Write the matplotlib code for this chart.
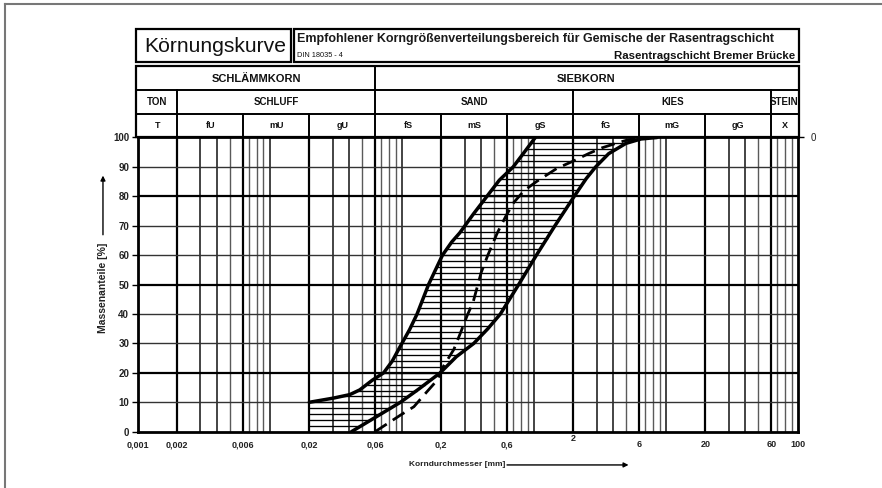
import matplotlib
matplotlib.use("Agg")
import matplotlib.pyplot as plt
import numpy as np
from matplotlib import transforms
from matplotlib.lines import Line2D
from matplotlib.patches import Rectangle

plt.rcParams['font.family'] = ['Liberation Sans', 'DejaVu Sans']

# ---------------- data ----------------
# upper (fine) limit of recommended range
upper_d = [0.02, 0.0303, 0.0405, 0.0482, 0.06, 0.0731, 0.085, 0.0977, 0.115, 0.131, 0.160, 0.204, 0.24, 0.276, 0.35, 0.443, 0.55, 0.70, 0.85, 1.03]
upper_p = [10, 11.4, 12.6, 14.2, 17.5, 20, 24, 29, 34.7, 40, 50, 60, 64.5, 67.6, 74, 80, 85.5, 90, 95, 100]
# lower (coarse) limit of recommended range
lower_d = [0.0417, 0.0645, 0.098, 0.135, 0.196, 0.26, 0.352, 0.45, 0.56, 0.77, 1.05, 1.45, 2.03, 2.5, 2.95, 3.7, 5.0, 6.5, 8.6]
lower_p = [0, 5.1, 10, 14.5, 20, 25.5, 30, 35, 40, 50, 60, 70, 80, 86, 90, 94.5, 98, 99.5, 100]
# Rasentragschicht Bremer Brücke (dashed)
dash_d = [0.063, 0.097, 0.124, 0.155, 0.186, 0.206, 0.249, 0.276, 0.314, 0.348, 0.40, 0.45, 0.53, 0.62, 0.71, 0.85, 1.05, 1.5, 2.0, 2.6, 3.3, 4.2, 5.0, 5.8, 6.5]
dash_p = [0, 5.5, 8.5, 13.5, 17.5, 22, 28, 33, 39.5, 44, 54, 60, 67.5, 73.5, 78, 82, 85, 89.5, 92, 94.5, 96.5, 98, 99, 99.6, 100]

x_ticks = [0.001, 0.002, 0.0063, 0.02, 0.063, 0.2, 0.63, 2, 6.3, 20, 63, 100]
x_tick_labels = ["0,001", "0,002", "0,006", "0,02", "0,06", "0,2", "0,6", "2", "6", "20", "60", "100"]
y_ticks = [0, 10, 20, 30, 40, 50, 60, 70, 80, 90, 100]

row2_bounds = [0.001, 0.063, 100]
row2_labels = ["SCHLÄMMKORN", "SIEBKORN"]
row3_bounds = [0.001, 0.002, 0.063, 2, 63, 100]
row3_labels = ["TON", "SCHLUFF", "SAND", "KIES", "STEIN"]
row4_bounds = [0.001, 0.002, 0.0063, 0.02, 0.063, 0.2, 0.63, 2, 6.3, 20, 63, 100]
row4_labels = ["T", "fU", "mU", "gU", "fS", "mS", "gS", "fG", "mG", "gG", "X"]

grid_mult = [1, 2, 3, 4, 5, 6.3, 7, 8, 9]
hatch_levels = list(range(2, 100, 2))

# ---------------- figure ----------------
W, H = 882, 488
fig = plt.figure(figsize=(W / 100, H / 100), dpi=100)
fig.patch.set_facecolor('white')

def fx(p):
    return p / W

def fy(p):
    return 1 - p / H

L, R, T, B = 137.5, 797.7, 137.5, 431.7
ax = fig.add_axes([fx(L), fy(B), fx(R) - fx(L), fy(T) - fy(B)])
ax.set_xscale('log')
ax.set_xlim(0.001, 100)
ax.set_ylim(0, 100)

# outer page frame
fig.add_artist(Line2D([fx(5), fx(882)], [fy(4), fy(4)], transform=fig.transFigure, color='#777777', lw=1.5))
fig.add_artist(Line2D([fx(5), fx(5)], [fy(4), fy(488)], transform=fig.transFigure, color='#777777', lw=1.5))

# vertical grid
bounds = row4_bounds
for k in range(-3, 2):
    for m in grid_mult:
        d = m * 10.0 ** k
        if np.any(np.isclose(d, bounds)):
            ax.axvline(d, color='black', lw=1.6, zorder=1)
        elif m in (1, 2, 3, 4):
            ax.axvline(d, color='#111111', lw=1.1, zorder=1)
        else:
            ax.axvline(d, color='#5a5a5a', lw=1.0, zorder=1)
# horizontal grid
for yv in y_ticks[1:-1]:
    if yv in (20, 50, 80):
        ax.axhline(yv, color='black', lw=1.6, zorder=1)
    else:
        ax.axhline(yv, color='#333333', lw=1.0, zorder=1)

# hatching between limits
lu = np.log10(upper_d)
ll = np.log10(lower_d)
for yv in hatch_levels:
    left = 10 ** np.interp(yv, upper_p, lu) if yv >= upper_p[0] else upper_d[0]
    right = 10 ** np.interp(yv, lower_p, ll)
    ax.hlines(yv, left, right, color='black', lw=0.95, zorder=2)

ax.plot(upper_d, upper_p, color='black', lw=2.5, zorder=4, solid_capstyle='round', solid_joinstyle='round')
ax.plot(lower_d, lower_p, color='black', lw=2.5, zorder=4, solid_capstyle='round', solid_joinstyle='round')
ax.plot(dash_d, dash_p, color='black', lw=2.0, zorder=4, dashes=(5, 2.6))

for s in ax.spines.values():
    s.set_linewidth(2.0)
    s.set_zorder(5)

ax.set_yticks(y_ticks, [str(v) for v in y_ticks])
ax.set_xticks(x_ticks, x_tick_labels)
ax.minorticks_off()
ax.tick_params(axis='y', length=4, width=1.0, pad=2, labelsize=7, labelcolor='#222222')
ax.tick_params(axis='x', length=0, pad=6, labelsize=6.5, labelcolor='#222222')
for lab in ax.get_xticklabels() + ax.get_yticklabels():
    lab.set_fontweight('bold')
ax.xaxis.get_major_ticks()[7].set_pad(1.5)

ax2 = ax.twinx()
ax2.set_ylim(0, 100)
ax2.set_yticks([100], ["0"])
ax2.tick_params(axis='y', length=4, width=1.0, pad=5, labelsize=7, labelcolor='#222222')
for s in ax2.spines.values():
    s.set_visible(False)

# axis labels with arrows
ax.text(-0.0523, 0.488, "Massenanteile [%]", transform=ax.transAxes, rotation=90,
        ha='center', va='center', fontsize=7.5, fontweight='bold', color='#222222')
ax.annotate("", xy=(-0.0523, 0.88), xytext=(-0.0523, 0.66), xycoords=ax.transAxes,
            arrowprops=dict(arrowstyle='-|>', color='black', lw=1.0, mutation_scale=7))
ax.text(0.4835, -0.113, "Korndurchmesser [mm]", transform=ax.transAxes,
        ha='center', va='center', fontsize=6.0, fontweight='bold', color='#222222')
ax.annotate("", xy=(0.748, -0.113), xytext=(0.5555, -0.113), xycoords=ax.transAxes,
            arrowprops=dict(arrowstyle='-|>', color='black', lw=1.0, mutation_scale=7))

# ---------------- header ----------------
ft = fig.transFigure
bt = transforms.blended_transform_factory(ax.transData, fig.transFigure)
HL = 135.5
HR = 799

def box(x0, y0, x1, y1, lw=1.6):
    fig.add_artist(Rectangle((fx(x0), fy(y1)), fx(x1) - fx(x0), fy(y0) - fy(y1),
                             transform=ft, fill=False, edgecolor='black', lw=lw))

box(HL, 29, 290.5, 62)
box(293.5, 29, HR, 62)
box(HL, 66, HR, T)
for yp in (90, 113.5):
    fig.add_artist(Line2D([fx(HL), fx(HR)], [fy(yp), fy(yp)], transform=ft, color='black', lw=1.4))

fig.text(fx(215), fy(46.5), "Körnungskurve", ha='center', va='center', fontsize=15.2, color='#111111')
fig.text(fx(297), fy(39), "Empfohlener Korngrößenverteilungsbereich für Gemische der Rasentragschicht",
         ha='left', va='center', fontsize=9.0, fontweight='bold', color='#1a1a1a')
fig.text(fx(297), fy(55.5), "DIN 18035 - 4", ha='left', va='center', fontsize=5.3, color='#111111')
fig.text(fx(795.5), fy(56), "Rasentragschicht Bremer Brücke", ha='right', va='center',
         fontsize=8.2, fontweight='bold', color='#111111')

def header_row(bds, labels, y0, y1, yt, size):
    for b in bds[1:-1]:
        fig.add_artist(Line2D([b, b], [fy(y0), fy(y1)], transform=bt, color='black', lw=1.4))
    for i, lab in enumerate(labels):
        xc = 10 ** ((np.log10(bds[i]) + np.log10(bds[i + 1])) / 2)
        fig.text(xc, fy(yt), lab, transform=bt, ha='center', va='center',
                 fontsize=size, fontweight='bold', color='#111111')

header_row(row2_bounds, row2_labels, 66, 90, 78.5, 8)
header_row(row3_bounds, row3_labels, 90, 113.5, 102, 7)
header_row(row4_bounds, row4_labels, 113.5, T, 126, 6.5)

fig.savefig("out.png", dpi=100)
